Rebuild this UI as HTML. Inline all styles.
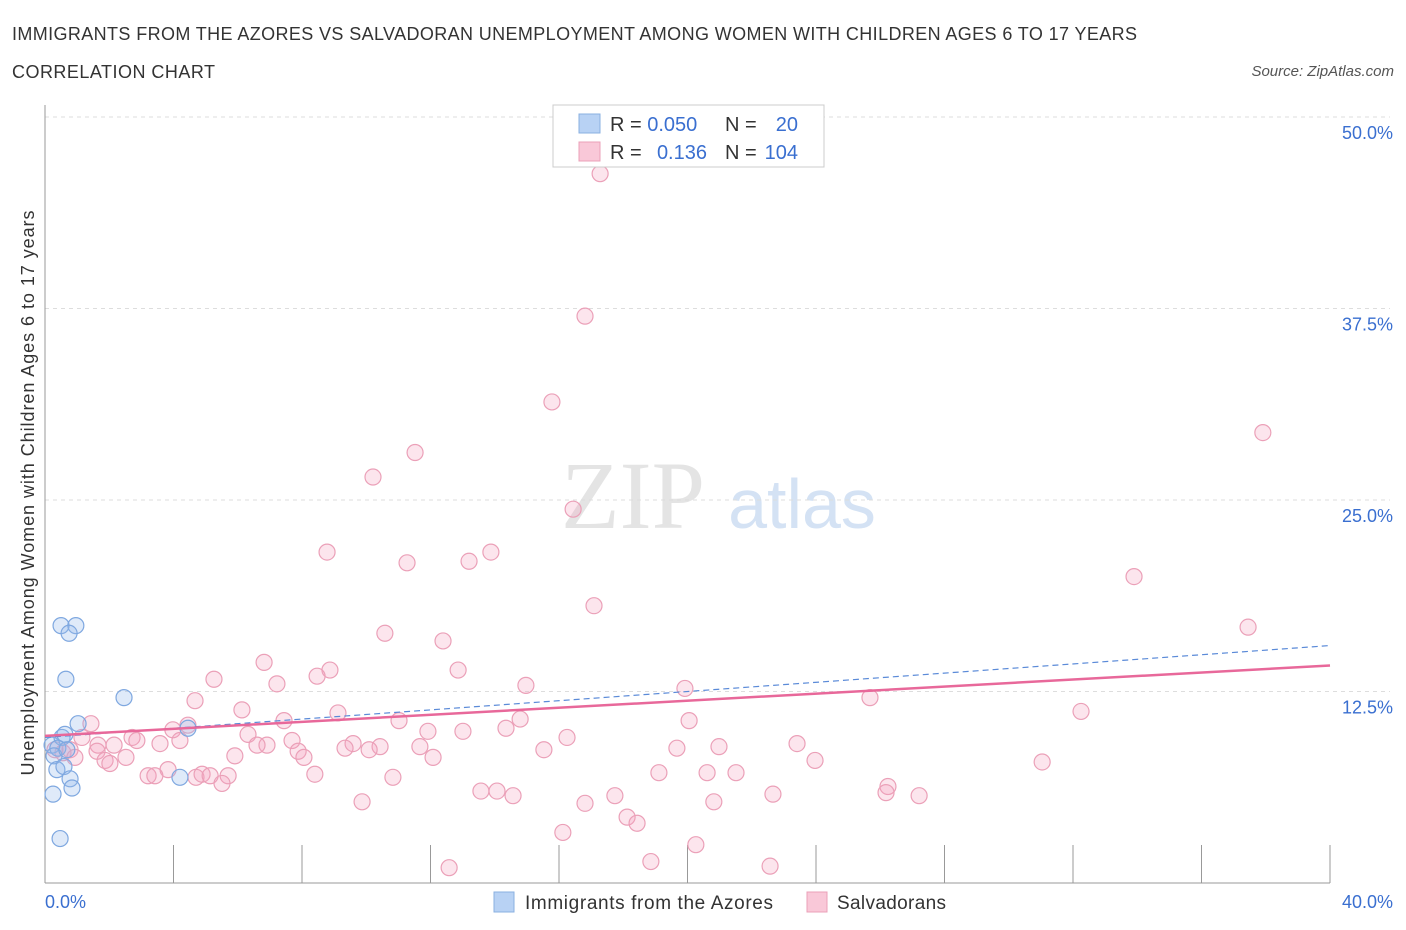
<!DOCTYPE html>
<html><head><meta charset="utf-8"><style>
body{margin:0;background:#fff;font-family:"Liberation Sans",sans-serif;}
svg{display:block}
</style></head><body>
<svg id="chart" width="1406" height="930">
<text x="12" y="40" font-size="18" fill="#333" textLength="1125">IMMIGRANTS FROM THE AZORES VS SALVADORAN UNEMPLOYMENT AMONG WOMEN WITH CHILDREN AGES 6 TO 17 YEARS</text>
<text x="12" y="78" font-size="18" fill="#333" textLength="203">CORRELATION CHART</text>
<text x="1394" y="76" font-size="15" fill="#555" font-style="italic" text-anchor="end">Source: ZipAtlas.com</text>
<text x="633" y="528" font-size="96" fill="#e4e4e4" font-family="Liberation Serif,serif" text-anchor="middle">ZIP</text>
<text x="802" y="528" font-size="70" fill="#d4e2f4" text-anchor="middle">atlas</text>
<text transform="translate(34,493) rotate(-90)" font-size="18" fill="#333" text-anchor="middle" textLength="565">Unemployment Among Women with Children Ages 6 to 17 years</text>
<g id="grid"></g><g id="marks"></g>
<g>
<rect x="553" y="105" width="271" height="62" fill="#fff" stroke="#ccc"/>
<rect x="579" y="114" width="21" height="19" fill="#b8d2f4" stroke="#8ab0e0"/>
<rect x="579" y="142" width="21" height="19" fill="#f9c8d8" stroke="#eba0b8"/>
<text x="610" y="131" font-size="20" fill="#333">R = <tspan fill="#3a6fd0">0.050</tspan></text>
<text x="725" y="131" font-size="20" fill="#333">N = </text><text x="798" y="131" font-size="20" fill="#3a6fd0" text-anchor="end">20</text>
<text x="610" y="159" font-size="20" fill="#333">R = </text><text x="707" y="159" font-size="20" fill="#3a6fd0" text-anchor="end">0.136</text>
<text x="725" y="159" font-size="20" fill="#333">N = </text><text x="798" y="159" font-size="20" fill="#3a6fd0" text-anchor="end">104</text>
</g>
<g>
<rect x="494" y="892" width="20" height="20" fill="#b8d2f4" stroke="#8ab0e0"/>
<text x="525" y="909" font-size="19" fill="#333" textLength="248">Immigrants from the Azores</text>
<rect x="807" y="892" width="20" height="20" fill="#f9c8d8" stroke="#eba0b8"/>
<text x="837" y="909" font-size="19" fill="#333" textLength="109">Salvadorans</text>
</g>
</svg>
<script>
const xTicks=[0,4,8,12,16,20,24,28,32,36,40];
const yTicks=[12.5,25,37.5,50];
const yTickLabels=["12.5%","25.0%","37.5%","50.0%"];
const pinkX=[17.28,16.81,15.78,37.91,11.52,10.21,16.44,8.78,13.88,11.27,13.20,33.90,17.09,37.45,10.58,12.39,6.82,5.26,12.86,8.87,7.22,8.47,14.97,19.92,4.67,25.68,6.13,32.25,1.43,4.45,7.44,9.12,11.02,14.79,20.05,3.98,11.92,13.01,14.35,2.71,6.32,1.15,16.25,3.58,4.20,6.91,7.69,1.65,9.59,10.43,11.67,1.62,2.15,2.86,9.34,10.09,15.53,19.67,20.98,23.41,0.31,0.56,0.78,6.60,0.93,1.87,2.52,5.91,7.88,8.06,12.08,23.97,31.04,2.02,3.83,3.21,3.42,4.70,4.89,5.14,5.70,8.40,10.83,19.11,20.61,21.51,5.51,26.24,13.57,14.07,14.57,22.66,26.18,27.21,17.74,16.81,9.87,20.82,18.12,18.43,16.12,20.26,18.86,12.58,22.57];
const pinkY=[46.3,37.0,31.4,29.4,28.1,26.5,24.4,21.6,21.6,20.9,21.0,20.0,18.1,16.7,16.3,15.8,14.4,13.3,13.9,13.9,13.0,13.5,12.9,12.7,11.9,12.1,11.3,11.2,10.4,10.3,10.6,11.1,10.6,10.7,10.6,10.0,9.9,9.9,10.1,9.5,9.7,9.5,9.5,9.1,9.3,9.0,9.3,9.0,9.1,8.9,8.9,8.6,9.0,9.3,8.8,8.7,8.7,8.8,8.9,9.1,8.7,8.5,8.7,9.0,8.2,8.0,8.2,8.3,8.6,8.2,8.2,8.0,7.9,7.8,7.4,7.0,7.0,6.9,7.1,7.0,7.0,7.1,6.9,7.2,7.2,7.2,6.5,6.3,6.0,6.0,5.7,5.8,5.9,5.7,5.7,5.2,5.3,5.3,4.3,3.9,3.3,2.5,1.4,1.0,1.1];
const blueX=[0.22,0.53,0.40,0.28,0.68,0.37,0.59,0.78,0.84,0.25,0.50,0.96,0.75,0.65,2.46,1.03,0.62,4.45,4.20,0.47];
const blueY=[9.0,9.5,8.8,8.3,8.7,7.4,7.6,6.8,6.2,5.8,16.8,16.8,16.3,13.3,12.1,10.4,9.7,10.1,6.9,2.9];
const pinkTrend=[9.6,14.2];
const blueTrend=[9.5,15.5];
const NS='http://www.w3.org/2000/svg';
const sx=v=>45+v*(1285/40);
const sy=v=>883-v*15.32;
function mk(tag,attrs,parent){const e=document.createElementNS(NS,tag);for(const k in attrs)e.setAttribute(k,attrs[k]);parent.appendChild(e);return e;}
const grid=document.getElementById('grid'),marks=document.getElementById('marks');
yTicks.forEach((t,i)=>{
 const l=mk('line',{x1:45,x2:1390,y1:sy(t),y2:sy(t),stroke:'#ddd','stroke-dasharray':'4,4'},grid);
 
 
 const tx=mk('text',{x:1393,y:sy(t)+22,'font-size':18,fill:'#3a6fd0','text-anchor':'end'},grid);
 tx.textContent=yTickLabels[i];
 
 
});
let ax=mk('line',{x1:45,x2:1330,y1:883,y2:883,stroke:'#999'},grid);


let ay=mk('line',{x1:45,x2:45,y1:105,y2:883,stroke:'#999'},grid);


xTicks.forEach(t=>{
 const l=mk('line',{x1:sx(t),x2:sx(t),y1:845,y2:883,stroke:'#999'},grid);
 
 
});
let xl0=mk('text',{x:45,y:908,'font-size':18,fill:'#3a6fd0'},grid);xl0.textContent='0.0%';


let xl1=mk('text',{x:1393,y:908,'font-size':18,fill:'#3a6fd0','text-anchor':'end'},grid);xl1.textContent='40.0%';


pinkX.forEach((x,i)=>{
 const c=mk('circle',{cx:sx(x),cy:sy(pinkY[i]),r:8,fill:'rgba(244,160,190,0.28)',stroke:'#eba0b8','stroke-width':1.2},marks);
 
 
});
blueX.forEach((x,i)=>{
 const c=mk('circle',{cx:sx(x),cy:sy(blueY[i]),r:8,fill:'rgba(150,185,235,0.3)',stroke:'#7fa8e0','stroke-width':1.2},marks);
 
 
});
let bt=mk('line',{x1:sx(0),x2:sx(40),y1:sy(blueTrend[0]),y2:sy(blueTrend[1]),stroke:'#5a8ad8','stroke-width':1.2,'stroke-dasharray':'6,4'},marks);


let pt=mk('line',{x1:sx(0),x2:sx(40),y1:sy(pinkTrend[0]),y2:sy(pinkTrend[1]),stroke:'#e8689a','stroke-width':2.5},marks);


</script>
</body></html>
